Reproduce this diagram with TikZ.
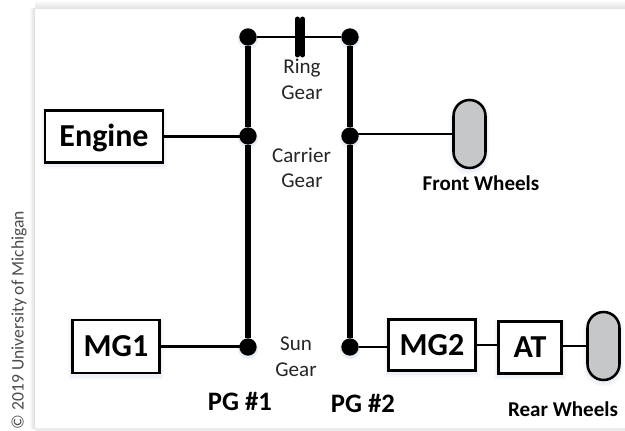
\documentclass[tikz,border=0pt]{standalone}
\usepackage{fontspec}
\setmainfont{Carlito}
\definecolor{glow}{HTML}{9DB8DC}
\definecolor{wheelgray}{HTML}{C6C7C9}
\tikzset{
  px/.style={x=0.75pt,y=-0.75pt},
  softglow/.style={preaction={draw=glow,draw opacity=.07,line width=6.5pt,transform canvas={yshift=-1.8pt}},
                   preaction={draw=glow,draw opacity=.10,line width=3.5pt,transform canvas={yshift=-1.8pt}}},
  unitbox/.style={draw=black,line width=1.9pt,fill=white,inner sep=0pt,font=\bfseries\fontsize{24}{28}\selectfont,text height=15.5pt,text depth=0pt,softglow},
  wheel/.style={draw=black,line width=1.9pt,fill=wheelgray,minimum width=24pt,minimum height=51pt,rounded corners=12pt,inner sep=0pt,softglow},
  hub/.style={circle,fill=black,minimum size=13pt,inner sep=0pt},
  hubglow/.style={circle,fill=glow,fill opacity=.22,minimum size=15pt,inner sep=0pt},
  gearlabel/.style={font=\fontsize{15.8}{18}\selectfont,inner sep=0pt,text=black!85,text height=10.2pt,text depth=0pt},
  titlelabel/.style={font=\bfseries\fontsize{20}{24}\selectfont,inner sep=0pt,text height=12.9pt,text depth=0pt},
  wheellabel/.style={font=\bfseries\fontsize{15.8}{18}\selectfont,inner sep=0pt,text height=10.2pt,text depth=0pt},
  shaft/.style={line width=4.2pt,draw=black},
  link/.style={line width=2pt,draw=black},
  clutchbar/.style={line width=3.7pt,draw=black,line cap=round}
}
\begin{document}
\begin{tikzpicture}[px]
\useasboundingbox (0,0) rectangle (625,431);
\fill[white] (0,0) rectangle (625,431);
% panel edges
\shade[top color=white,bottom color=black!12] (35,0) rectangle (625,9);
\shade[left color=white,right color=black!14] (29,9) rectangle (35,428);
\fill[black!8] (35,428) rectangle (625,431);
\fill[white] (35,9) rectangle (625,428);
% soft glow beneath the hubs
\foreach \gx/\gy/\gn in {248/39/a,248/138/b,248/349/c,350/39/d,350/138/e,350/349/f}
  \node[hubglow] (glow\gn) at (\gx,\gy) {};
% nodes
\node[hub] (rl) at (248,37) {};
\node[hub] (cl) at (248,136) {};
\node[hub] (sl) at (248,347) {};
\node[hub] (rr) at (350,37) {};
\node[hub] (cr) at (350,136) {};
\node[hub] (sr) at (350,347) {};
\node[unitbox,minimum width=88.5pt,minimum height=39pt] (engine) at (104,136.5) {Engine};
\node[unitbox,minimum width=65.5pt,minimum height=39.5pt] (mg1) at (116,346.5) {MG1};
\node[unitbox,minimum width=65.5pt,minimum height=38.5pt] (mg2) at (432,345) {MG2};
\node[unitbox,minimum width=47pt,minimum height=39pt] (at) at (530,347.5) {AT};
\node[wheel] (fw) at (469.5,134) {};
\node[wheel] (rw) at (603.5,346) {};
\coordinate (clutchlt) at (297.5,19);
\coordinate (clutchlb) at (297.5,55);
\coordinate (clutchrt) at (302.5,19);
\coordinate (clutchrb) at (302.5,55);
% connectors
\draw[shaft] (rl) -- (cl);
\draw[shaft] (cl) -- (sl);
\draw[shaft] (rr) -- (cr);
\draw[shaft] (cr) -- (sr);
\draw[link] (rl) -- (rr);
\draw[clutchbar] (clutchlt) -- (clutchlb);
\draw[clutchbar] (clutchrt) -- (clutchrb);
\draw[link] (engine.east) -- (engine.east -| cl);
\draw[link] (mg1.east) -- (mg1.east -| sl);
\draw[link] (cr.center |- fw.west) -- (fw.west);
\draw[link] (sr) -- (sr -| mg2.west);
\draw[link] (mg2.east) -- (mg2.east -| at.west);
\draw[link] (at.east |- rw.west) -- (rw.west);
% labels
\node[gearlabel] (ring1) at (302,66.5) {Ring};
\node[gearlabel] (ring2) at (302,93) {Gear};
\node[gearlabel] (car1) at (301.5,155.5) {Carrier};
\node[gearlabel] (car2) at (302,181) {Gear};
\node[gearlabel] (sun1) at (296,343.5) {Sun};
\node[gearlabel] (sun2) at (296,369.5) {Gear};
\node[titlelabel] (pg1) at (240,402) {PG \#1};
\node[titlelabel] (pg2) at (363,403.5) {PG \#2};
\node[wheellabel] (fl) at (481,184) {Front Wheels};
\node[wheellabel] (rl2) at (563,410) {Rear Wheels};
\node[font=\fontsize{13.2}{15}\selectfont,text=black!70,rotate=90,inner sep=0pt] (copy) at (19,320) {© 2019 University of Michigan};
\end{tikzpicture}
\end{document}
